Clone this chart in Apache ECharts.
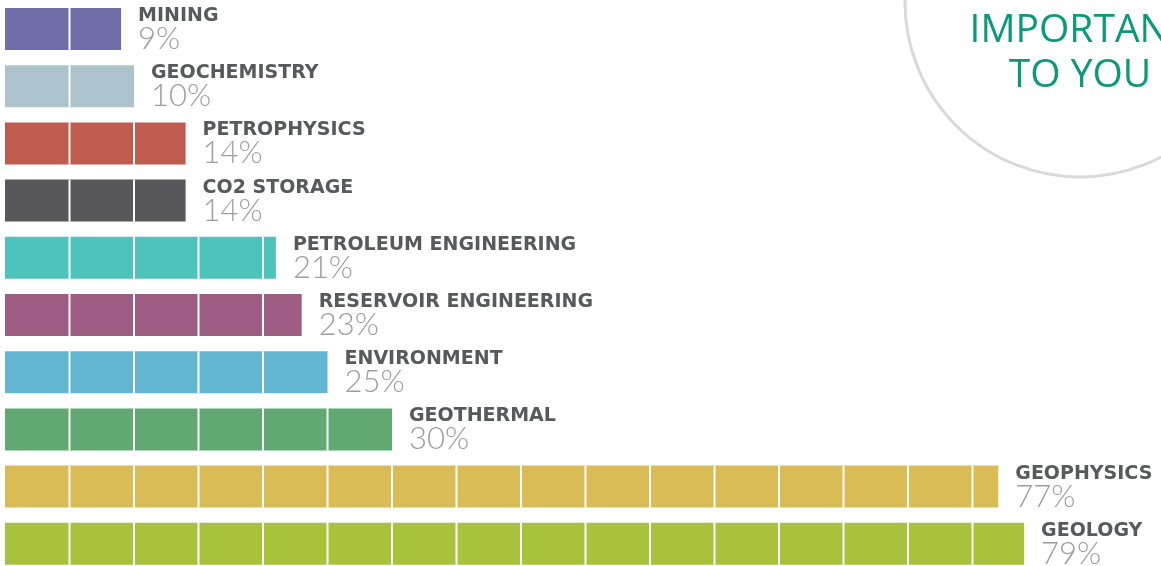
<!DOCTYPE html>
<html>
<head>
<meta charset="utf-8">
<script src="https://cdn.jsdelivr.net/npm/echarts@6/dist/echarts.min.js"></script>
<style>
  html, body { margin: 0; padding: 0; background: #fff; }
  #chart { width: 1161px; height: 566px; }
</style>
</head>
<body>
<div id="chart"></div>
<script>
// 各领域占比
const categories = ['MINING', 'GEOCHEMISTRY', 'PETROPHYSICS', 'CO2 STORAGE', 'PETROLEUM ENGINEERING',
  'RESERVOIR ENGINEERING', 'ENVIRONMENT', 'GEOTHERMAL', 'GEOPHYSICS', 'GEOLOGY'];
const values = [9, 10, 14, 14, 21, 23, 25, 30, 77, 79];
const barColors = ['#6e6da8', '#adc3cc', '#bd5c4f', '#58585c', '#4dc3bb',
  '#9d5c82', '#63b6d2', '#61a872', '#d9bc55', '#a8c23b'];
const step = 5; // each block = 5%

const chart = echarts.init(document.getElementById('chart'));

chart.setOption({
  animation: false,
  grid: { left: 5, top: 0.4, width: 1161, height: 572, outerBoundsMode: 'none' },
  xAxis: {
    type: 'value', min: 0, max: 90, interval: step,
    show: false
  },
  yAxis: {
    type: 'category', data: categories, inverse: true, show: false
  },
  graphic: [
    {
      type: 'circle',
      shape: { cx: 1080, cy: 2, r: 175 },
      style: { fill: 'none', stroke: '#d9d9d9', lineWidth: 3 },
      silent: true
    },
    {
      type: 'text',
      x: 1080, y: 8,
      style: {
        text: 'IMPORTANT\nTO YOU',
        fill: '#0b9a78',
        font: '39px "Open Sans"',
        lineHeight: 45,
        align: 'center',
        verticalAlign: 'top'
      }
    }
  ],
  series: [
    {
      type: 'bar',
      barWidth: 42,
      data: values.map((v, i) => ({ value: v, itemStyle: { color: barColors[i] } })),
      label: {
        show: true,
        position: 'right',
        distance: 17,
        formatter: p => '{n|' + p.name + '}\n{p|' + p.value + '%}',
        rich: {
          n: { fontFamily: 'DejaVu Sans', fontWeight: 'bold', fontSize: 19, color: '#58595b', lineHeight: 20 },
          p: { fontFamily: 'Lato', fontWeight: 300, fontSize: 31, color: '#9d9d9d', lineHeight: 26 }
        }
      }
    },
    {
      // white dividers every 5%
      type: 'custom',
      z: 3,
      silent: true,
      data: values,
      renderItem: (params, api) => {
        const v = api.value(0);
        const c = api.coord([0, params.dataIndex]);
        const children = [];
        for (let k = step; k < v; k += step) {
          const x = api.coord([k, params.dataIndex])[0];
          children.push({
            type: 'line',
            shape: { x1: x, y1: c[1] - 21, x2: x, y2: c[1] + 21 },
            style: { stroke: '#ffffff', lineWidth: 2 }
          });
        }
        return { type: 'group', children };
      },
      encode: { x: 0, y: -1 }
    }
  ]
});

window.addEventListener('resize', () => chart.resize());
</script>
</body>
</html>
